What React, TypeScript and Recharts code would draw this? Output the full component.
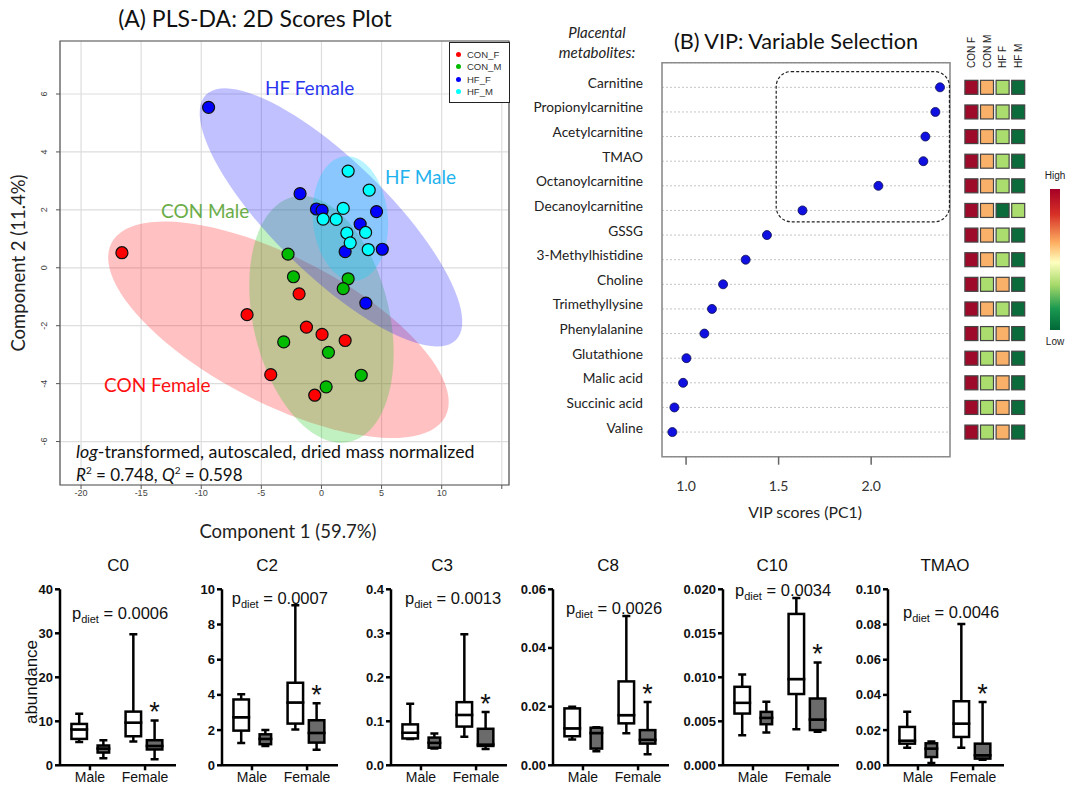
import React from 'react';
import {
  ScatterChart, Scatter, XAxis, YAxis, CartesianGrid, ReferenceArea,
  ComposedChart, Bar,
} from 'recharts';

const CAL = 'Lato, "Open Sans", sans-serif';
const ARIAL = '"Liberation Sans", Arial, sans-serif';

// ---------- (A) PLS-DA scores: [component 1, component 2] ----------
const GROUP_NAMES = ['CON_F', 'CON_M', 'HF_F', 'HF_M'];
const GROUP_COLORS = ['#ff0000', '#00bb00', '#0000ff', '#00ffff'];
const CON_F = [[-16.6, 0.52], [-1.86, -0.9], [-6.19, -1.62], [-1.25, -2.05], [0.05, -2.3], [1.97, -2.51], [-4.22, -3.69], [-0.56, -4.4]];
const CON_M = [[-2.78, 0.47], [-2.33, -0.31], [2.22, -0.38], [1.81, -0.72], [-3.14, -2.56], [0.58, -2.92], [3.31, -3.71], [0.39, -4.11]];
const HF_F = [[-9.39, 5.54], [-1.78, 2.56], [-0.42, 2.03], [0.05, 1.98], [4.58, 1.94], [3.22, 1.51], [1.97, 0.56], [5.06, 0.64], [3.69, -1.22]];
const HF_M = [[2.22, 3.34], [3.97, 2.68], [1.81, 2.05], [0.14, 1.68], [1.22, 1.67], [2.11, 1.2], [3.67, 1.22], [2.39, 0.86], [3.89, 0.63]];
// confidence ellipses: centre, then the two semi-axis vectors (data units)
const ELL_CON_F = [-3.58, -2.14, 13.88, -3.0, -2.82, -2.23];
const ELL_CON_M = [0.0, -1.78, 2.34, -4.23, -5.53, -0.52];
const ELL_HF_F = [0.79, 1.74, 10.4, -4.23, -3.33, -1.4];
const ELL_HF_M = [2.4, 1.7, 0.45, -2.15, -3.11, -0.11];
const SCORE_X_TICKS = [-20, -15, -10, -5, 0, 5, 10, 15];
const SCORE_Y_TICKS = [-6, -4, -2, 0, 2, 4, 6];

// ---------- (B) VIP ----------
const METABOLITES = ['Carnitine', 'Propionylcarnitine', 'Acetylcarnitine', 'TMAO', 'Octanoylcarnitine', 'Decanoylcarnitine', 'GSSG', '3-Methylhistidine', 'Choline', 'Trimethyllysine', 'Phenylalanine', 'Glutathione', 'Malic acid', 'Succinic acid', 'Valine'];
const VIP = [2.372, 2.347, 2.293, 2.282, 2.039, 1.629, 1.437, 1.322, 1.2, 1.14, 1.099, 1.002, 0.984, 0.937, 0.926];
const VIP_TICKS = [1.0, 1.5, 2.0];
// heat map levels: 0 low .. 3 high
const HEAT_COLS = ['CON F', 'CON M', 'HF F', 'HF M'];
const HEAT_CON_F = [3, 3, 3, 3, 3, 3, 3, 3, 3, 3, 3, 3, 3, 3, 3];
const HEAT_CON_M = [2, 2, 2, 2, 2, 2, 2, 2, 1, 2, 1, 1, 1, 1, 1];
const HEAT_HF_F = [1, 1, 1, 1, 1, 0, 1, 1, 2, 1, 2, 2, 2, 2, 2];
const HEAT_HF_M = [0, 0, 0, 0, 0, 1, 0, 0, 0, 0, 0, 0, 0, 0, 0];
const LEVEL_COLORS = ['#0b6b3a', '#abdc6e', '#f9b069', '#9e0a2a'];

// ---------- bottom box plots: [min, q1, median, q3, max] for Male CON, Male HF, Female CON, Female HF ----------
const BOX_TITLES = ['C0', 'C2', 'C3', 'C8', 'C10', 'TMAO'];
const P_VALUES = ['0.0006', '0.0007', '0.0013', '0.0026', '0.0034', '0.0046'];
const SEX_LABELS = ['Male', 'Female'];
const C0 = [[5.3, 6.0, 8.15, 9.4, 11.7], [1.6, 2.9, 3.8, 4.5, 5.7], [5.4, 6.6, 9.7, 12.2, 29.8], [1.4, 3.6, 4.4, 5.7, 10.2]];
const C2 = [[1.27, 1.97, 2.73, 3.74, 4.04], [1.1, 1.2, 1.5, 1.76, 2.01], [2.03, 2.37, 3.57, 4.69, 9.1], [0.89, 1.29, 1.84, 2.56, 3.53]];
const C3 = [[0.06, 0.061, 0.074, 0.093, 0.14], [0.038, 0.04, 0.051, 0.063, 0.072], [0.065, 0.088, 0.1145, 0.1435, 0.298], [0.037, 0.044, 0.047, 0.083, 0.121]];
const C8 = [[0.0088, 0.0099, 0.0126, 0.0194, 0.02], [0.0048, 0.0057, 0.011, 0.0128, 0.013], [0.0109, 0.0143, 0.0171, 0.0286, 0.0509], [0.0038, 0.0074, 0.0087, 0.012, 0.0216]];
const C10 = [[0.00342, 0.00588, 0.0071, 0.00892, 0.01032], [0.00372, 0.00467, 0.00539, 0.00607, 0.00721], [0.0041, 0.0081, 0.0098, 0.0172, 0.019], [0.0038, 0.004, 0.0052, 0.00759, 0.01169]];
const TMAO = [[0.01, 0.0123, 0.014, 0.0218, 0.0304], [0.0013, 0.0047, 0.0095, 0.0125, 0.0135], [0.01, 0.0161, 0.0237, 0.0364, 0.0803], [0.0032, 0.0038, 0.0057, 0.0123, 0.036]];
const BOX_STATS = [C0, C2, C3, C8, C10, TMAO];
const BOX_Y_TICKS = [
  [0, 10, 20, 30, 40],
  [0, 2, 4, 6, 8, 10],
  [0, 0.1, 0.2, 0.3, 0.4],
  [0, 0.02, 0.04, 0.06],
  [0, 0.005, 0.01, 0.015, 0.02],
  [0, 0.02, 0.04, 0.06, 0.08, 0.1],
];
const BOX_DECIMALS = [0, 0, 1, 2, 3, 2];

// layout (page px)
const BOX_POS = [1, 2.25, 3.8, 4.9];
const BOX_AXIS_X = [60, 221.7, 390.7, 553.3, 723.3, 888.3];
const BOX_TITLE_X = [118, 267, 442, 608, 772, 945];
const P_POS = [[72, 613], [231.7, 598], [405, 598], [566, 608], [735, 590], [903, 612]];

function ellipsePoints(e: number[]) {
  const pts = [];
  for (let k = 0; k < 96; k++) {
    const t = (k / 96) * Math.PI * 2;
    pts.push({ x: e[0] + e[2] * Math.cos(t) + e[4] * Math.sin(t), y: e[1] + e[3] * Math.cos(t) + e[5] * Math.sin(t) });
  }
  return pts;
}

const Txt = ({ x, y, children, style, rotate, left }: any) => (
  <div
    style={{
      position: 'absolute', left: x, top: y, whiteSpace: 'nowrap', lineHeight: 1,
      transform: `${left ? 'translate(0,-50%)' : 'translate(-50%,-50%)'}${rotate ? ' rotate(-90deg)' : ''}`,
      ...style,
    }}
  >
    {children}
  </div>
);

const RotatedTick = ({ x, y, payload }: any) => (
  <text x={x} y={y} transform={`rotate(-90 ${x} ${y})`} textAnchor="middle" dominantBaseline="central" fontSize={9} fill="#444" fontFamily={ARIAL}>
    {payload.value}
  </text>
);

function ScoresPlot() {
  const groups = [CON_F, CON_M, HF_F, HF_M];
  const ells = [ELL_CON_F, ELL_CON_M, ELL_HF_F, ELL_HF_M];
  const ellFill = ['#ff2020', '#20c820', '#2020ff', '#00d8ff'];
  return (
    <>
      <div style={{ position: 'absolute', left: 0, top: 0 }}>
        <ScatterChart width={520} height={540} margin={{ top: 41, right: 11, bottom: 25, left: 20 }}>
          <CartesianGrid stroke="#dddddd" strokeWidth={1.2} />
          <XAxis type="number" dataKey="x" domain={[-21.75, 15.6]} allowDataOverflow ticks={SCORE_X_TICKS} interval={0}
            tickFormatter={(v: number) => (v === 15 ? '' : String(v))} height={30} tickSize={4} tickMargin={1}
            axisLine={false} tickLine={{ stroke: '#555' }} tick={{ fontSize: 9, fill: '#444', fontFamily: ARIAL }} />
          <YAxis type="number" dataKey="y" domain={[-7.5, 7.83]} allowDataOverflow ticks={SCORE_Y_TICKS} interval={0}
            width={40} tickSize={4} tickMargin={12} axisLine={false} tickLine={{ stroke: '#555' }} tick={<RotatedTick />} />
          <ReferenceArea x1={-21.75} x2={15.6} y1={-7.5} y2={7.83} fill="none" stroke="#555" strokeWidth={1.2} />
          {ells.map((e, i) => (
            <Scatter key={'e' + i} data={ellipsePoints(e)} fill={ellFill[i]} isAnimationActive={false}
              line={{ fill: ellFill[i], fillOpacity: 0.28, stroke: 'none' }} lineJointType="linearClosed"
              shape={() => <g />} />
          ))}
          {groups.map((g, i) => (
            <Scatter key={'g' + i} name={GROUP_NAMES[i]} data={g.map((p) => ({ x: p[0], y: p[1] }))} isAnimationActive={false}
              fill={GROUP_COLORS[i]}
              shape={(p: any) => <circle cx={p.cx} cy={p.cy} r={6} fill={GROUP_COLORS[i]} stroke="#111" strokeWidth={1.2} />} />
          ))}
        </ScatterChart>
      </div>
      <Txt x={255} y={18} style={{ fontFamily: CAL, fontSize: 23, color: '#111' }}>(A) PLS-DA: 2D Scores Plot</Txt>
      <Txt x={18} y={263} rotate style={{ fontFamily: CAL, fontSize: 18.5, color: '#222' }}>Component 2 (11.4%)</Txt>
      <Txt x={288} y={531} style={{ fontFamily: CAL, fontSize: 18.5, color: '#222' }}>Component 1 (59.7%)</Txt>
      <Txt x={265} y={87} left style={{ fontFamily: CAL, fontSize: 19, color: '#2a35f0' }}>HF Female</Txt>
      <Txt x={385} y={176} left style={{ fontFamily: CAL, fontSize: 19, color: '#1eb2ee' }}>HF Male</Txt>
      <Txt x={161} y={210} left style={{ fontFamily: CAL, fontSize: 19, color: '#6aad48' }}>CON Male</Txt>
      <Txt x={104} y={384} left style={{ fontFamily: CAL, fontSize: 19, color: '#ff1010' }}>CON Female</Txt>
      <Txt x={76} y={452} left style={{ fontFamily: CAL, fontSize: 17.8, color: '#111' }}>
        <i>log</i>-transformed, autoscaled, dried mass normalized
      </Txt>
      <Txt x={76} y={474} left style={{ fontFamily: CAL, fontSize: 17, color: '#111' }}>
        <i>R</i><sup style={{ fontSize: 10 }}>2</sup> = 0.748, <i>Q</i><sup style={{ fontSize: 10 }}>2</sup> = 0.598
      </Txt>
      <div style={{ position: 'absolute', left: 449, top: 42, width: 59, height: 59, border: '1px solid #222', background: '#fff' }}>
        {GROUP_NAMES.map((n, i) => (
          <div key={n} style={{ position: 'absolute', left: 6, top: 6 + i * 12.3, height: 11, display: 'flex', alignItems: 'center', fontFamily: ARIAL, fontSize: 9.5, color: '#333' }}>
            <span style={{ width: 5, height: 5, borderRadius: 3, background: GROUP_COLORS[i], marginRight: 6 }} />
            {n}
          </div>
        ))}
      </div>
    </>
  );
}

const MetaboliteTick = ({ x, y, payload }: any) => (
  <text x={x} y={y - 5} textAnchor="end" dominantBaseline="central" fontSize={13.7} fill="#222" fontFamily={CAL}>
    {METABOLITES[payload.value - 1]}
  </text>
);

const RoundedDashed = (p: any) => (
  <rect x={p.x} y={p.y} width={p.width} height={p.height} rx={15} ry={15} fill="none" stroke="#222" strokeWidth={1.2} strokeDasharray="3 2" />
);

function VipPlot() {
  const rows = METABOLITES.map((_, i) => i + 1);
  const data = VIP.map((v, i) => ({ vip: v, row: i + 1 }));
  return (
    <>
      <div style={{ position: 'absolute', left: 520, top: 0 }}>
        <ScatterChart width={440} height={520} margin={{ top: 62.7, right: 10, bottom: 0, left: 0 }}>
          <CartesianGrid vertical={false} stroke="#c4c4c4" strokeDasharray="2 2" />
          <XAxis type="number" dataKey="vip" domain={[0.87, 2.426]} allowDataOverflow ticks={VIP_TICKS} interval={0}
            tickFormatter={(v: number) => v.toFixed(1)} height={63.3} tickSize={8} tickMargin={16} axisLine={false}
            tickLine={{ stroke: '#666', strokeWidth: 1.5 }} tick={{ fontSize: 14, fill: '#333', fontFamily: CAL }} />
          <YAxis type="number" dataKey="row" domain={[0, 16]} reversed allowDataOverflow ticks={rows} interval={0}
            width={142} tickSize={6} tickMargin={13} axisLine={false} tickLine={false} tick={<MetaboliteTick />} />
          <ReferenceArea x1={0.87} x2={2.426} y1={0} y2={16} fill="none" stroke="#8c8c8c" strokeWidth={1.6} />
          <ReferenceArea x1={1.487} x2={2.423} y1={0.36} y2={6.46} shape={RoundedDashed} />
          <Scatter data={data} isAnimationActive={false} fill="#1010e0"
            shape={(p: any) => <circle cx={p.cx} cy={p.cy} r={4.5} fill="#1010e0" stroke="#101050" strokeWidth={0.8} />} />
        </ScatterChart>
      </div>
      <Txt x={597} y={32} style={{ fontFamily: CAL, fontSize: 15, fontStyle: 'italic', color: '#222' }}>Placental</Txt>
      <Txt x={597} y={52} style={{ fontFamily: CAL, fontSize: 15, fontStyle: 'italic', color: '#222' }}>metabolites:</Txt>
      <Txt x={796} y={42} style={{ fontFamily: CAL, fontSize: 21.7, color: '#111' }}>(B) VIP: Variable Selection</Txt>
      <Txt x={805} y={512} style={{ fontFamily: CAL, fontSize: 15.8, color: '#222' }}>VIP scores (PC1)</Txt>
    </>
  );
}

const HeaderTick = ({ x, y, payload }: any) => (
  <text x={x} y={y + 13.3} transform={`rotate(-90 ${x} ${y + 13.3})`} textAnchor="start" dominantBaseline="central" fontSize={10} fill="#222" fontFamily={ARIAL}>
    {HEAT_COLS[payload.value - 1]}
  </text>
);

function HeatMap() {
  const cols = [HEAT_CON_F, HEAT_CON_M, HEAT_HF_F, HEAT_HF_M];
  const cells: any[] = [];
  cols.forEach((c, ci) => c.forEach((lv, ri) => cells.push({ col: ci + 1, row: ri + 1, level: lv })));
  return (
    <>
      <div style={{ position: 'absolute', left: 950, top: 0 }}>
        <ScatterChart width={90} height={520} margin={{ top: 22.7, right: 14, bottom: 63.3, left: 13.6 }}>
          <XAxis type="number" dataKey="col" orientation="top" domain={[0.5, 4.5]} ticks={[1, 2, 3, 4]} interval={0}
            height={40} axisLine={false} tickLine={false} tick={<HeaderTick />} />
          <YAxis type="number" dataKey="row" domain={[0, 16]} reversed hide />
          <Scatter data={cells} isAnimationActive={false} fill="#888"
            shape={(p: any) => (
              <rect x={p.cx - 6.5} y={p.cy - 7} width={13} height={14} fill={LEVEL_COLORS[p.payload.level]} stroke="#444" strokeWidth={1.2} />
            )} />
        </ScatterChart>
      </div>
      <div style={{
        position: 'absolute', left: 1050, top: 189, width: 9.5, height: 141,
        background: 'linear-gradient(to bottom, #a50026, #d73027 18%, #fdae61 38%, #ffffbf 52%, #a6d96a 68%, #1a9850 85%, #006837)',
      }} />
      <Txt x={1055} y={176} style={{ fontFamily: ARIAL, fontSize: 10, color: '#222' }}>High</Txt>
      <Txt x={1055} y={342} style={{ fontFamily: ARIAL, fontSize: 10, color: '#222' }}>Low</Txt>
    </>
  );
}

const LowWhisker = (p: any) => {
  const cx = p.x + p.width / 2;
  const yb = p.y + p.height;
  return (
    <g stroke="#000" strokeWidth={2.5}>
      <line x1={cx} x2={cx} y1={p.y} y2={yb} />
      <line x1={cx - 4} x2={cx + 4} y1={yb} y2={yb} />
    </g>
  );
};

const HighWhisker = (p: any) => {
  const cx = p.x + p.width / 2;
  return (
    <g>
      <line x1={cx} x2={cx} y1={p.y} y2={p.y + p.height} stroke="#000" strokeWidth={2.5} />
      <line x1={cx - 4} x2={cx + 4} y1={p.y} y2={p.y} stroke="#000" strokeWidth={2.5} />
      {p.index === 3 && (
        <text x={cx} y={p.y + 1} textAnchor="middle" fontSize={27} fill="#111" fontFamily={ARIAL}>*</text>
      )}
    </g>
  );
};

const BoxShape = (p: any) => {
  const cx = p.x + p.width / 2;
  const w = p.index === 1 ? 11.5 : 15.5;
  return (
    <rect x={cx - w / 2} y={p.y} width={w} height={p.height} fill={p.index % 2 ? '#6b6b6b' : '#fff'} stroke="#000" strokeWidth={2.5} />
  );
};

const BoldTick = ({ x, y, payload, dec }: any) => (
  <text x={x} y={y} textAnchor="end" dominantBaseline="central" fontSize={13} fontWeight="bold" fill="#111" fontFamily={ARIAL}>
    {Number(payload.value).toFixed(dec)}
  </text>
);

function BoxPanel({ idx }: { idx: number }) {
  const data = BOX_STATS[idx].map((s, i) => ({
    pos: BOX_POS[i], base: s[0], lowW: s[1] - s[0], box1: s[2] - s[1], box2: s[3] - s[2], highW: s[4] - s[3],
  }));
  const ticks = BOX_Y_TICKS[idx];
  const ax = BOX_AXIS_X[idx];
  const axisStyle = { stroke: '#000', strokeWidth: 2.5 };
  return (
    <>
      <div style={{ position: 'absolute', left: ax - 45, top: 580 }}>
        <ComposedChart width={171} height={208} data={data} margin={{ top: 9.3, right: 10, bottom: 0, left: 0 }}>
          <XAxis type="number" dataKey="pos" domain={[0, 6]} allowDataOverflow ticks={[1.55, 4.4]} interval={0}
            tickFormatter={(v: number) => (v < 3 ? SEX_LABELS[0] : SEX_LABELS[1])} height={22.7} tickSize={5} tickMargin={2}
            axisLine={axisStyle} tickLine={axisStyle} tick={{ fontSize: 14, fill: '#111', fontFamily: ARIAL }} />
          <YAxis type="number" domain={[0, ticks[ticks.length - 1]]} allowDataOverflow ticks={ticks} interval={0}
            width={45} tickSize={5} tickMargin={2} axisLine={axisStyle} tickLine={axisStyle}
            tick={<BoldTick dec={BOX_DECIMALS[idx]} />} />
          <Bar dataKey="base" stackId="s" barSize={15} isAnimationActive={false} shape={() => <g />} />
          <Bar dataKey="lowW" stackId="s" barSize={15} isAnimationActive={false} shape={LowWhisker} />
          <Bar dataKey="box1" stackId="s" barSize={15} isAnimationActive={false} shape={BoxShape} />
          <Bar dataKey="box2" stackId="s" barSize={15} isAnimationActive={false} shape={BoxShape} />
          <Bar dataKey="highW" stackId="s" barSize={15} isAnimationActive={false} shape={HighWhisker} />
        </ComposedChart>
      </div>
      <Txt x={BOX_TITLE_X[idx]} y={565} style={{ fontFamily: ARIAL, fontSize: 17, color: '#111' }}>{BOX_TITLES[idx]}</Txt>
      <div style={{ position: 'absolute', left: P_POS[idx][0], top: P_POS[idx][1] - 10, height: 20, lineHeight: '20px', whiteSpace: 'nowrap', fontFamily: ARIAL, fontSize: 16.5, color: '#111' }}>
        p<span style={{ fontSize: 11, position: 'relative', top: 4 }}>diet</span> = {P_VALUES[idx]}
      </div>
    </>
  );
}

export default function App() {
  return (
    <div style={{ position: 'absolute', left: 0, top: 0, width: 1073, height: 788, background: '#fff', overflow: 'hidden' }}>
      <ScoresPlot />
      <VipPlot />
      <HeatMap />
      {BOX_TITLES.map((_, i) => <BoxPanel key={i} idx={i} />)}
      <Txt x={31} y={682} rotate style={{ fontFamily: ARIAL, fontSize: 17, color: '#111' }}>abundance</Txt>
    </div>
  );
}
